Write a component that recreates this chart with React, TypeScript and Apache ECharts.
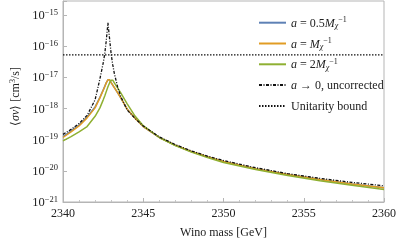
import React, { useEffect, useRef } from "react";
import * as echarts from "echarts";

// Wino mass grid [GeV]
const mass = [
  2340, 2340.5, 2341, 2341.5, 2342, 2342.3, 2342.5, 2342.6, 2342.7, 2342.8,
  2342.9, 2343.0, 2343.1, 2343.2, 2343.4, 2343.6, 2344, 2344.5, 2345, 2346,
  2347, 2348, 2349, 2350, 2352, 2354, 2356, 2358, 2360,
];

// log10 of <sigma v> [cm^3/s]
const logSvHalf = [
  -18.90, -18.72, -18.53, -18.27, -17.95, -17.64, -17.41, -17.29, -17.17, -17.08,
  -17.08, -17.17, -17.25, -17.33, -17.49, -17.66, -18.02, -18.32, -18.58, -18.93,
  -19.18, -19.38, -19.55, -19.70, -19.93, -20.12, -20.28, -20.42, -20.54,
];
const logSvOne = [
  -18.93, -18.75, -18.56, -18.30, -17.98, -17.66, -17.42, -17.30, -17.17, -17.08,
  -17.08, -17.17, -17.25, -17.33, -17.49, -17.66, -18.02, -18.32, -18.58, -18.93,
  -19.18, -19.38, -19.55, -19.70, -19.93, -20.12, -20.28, -20.42, -20.54,
];
const logSvTwo = [
  -19.04, -18.90, -18.75, -18.58, -18.25, -17.98, -17.73, -17.60, -17.45, -17.30,
  -17.18, -17.09, -17.09, -17.18, -17.34, -17.50, -17.85, -18.25, -18.55, -18.93,
  -19.19, -19.40, -19.57, -19.73, -19.96, -20.15, -20.32, -20.46, -20.60,
];
const logSvUncorrected = [
  -18.83, -18.67, -18.48, -18.22, -17.72, -17.05, -16.55, -16.25, -15.80, -15.25,
  -15.75, -16.25, -16.60, -16.88, -17.30, -17.62, -18.05, -18.32, -18.56, -18.91,
  -19.16, -19.36, -19.53, -19.67, -19.90, -20.09, -20.24, -20.37, -20.48,
];
const logUnitarityBound = -16.28;

const xTicks = [2340, 2345, 2350, 2355, 2360];
const yExponents = [-21, -20, -19, -18, -17, -16, -15];

const seriesNames = [
  "a = 0.5M",
  "a = M",
  "a = 2M",
  "a → 0, uncorrected",
  "Unitarity bound",
];

const FONT = "Liberation Serif";
const TXT = "#222";

export default function App() {
  const ref = useRef<HTMLDivElement>(null);
  useEffect(() => {
    if (!ref.current) return;
    const chart = echarts.init(ref.current, undefined, { renderer: "svg" });
    const pairs = (ys: number[]) => mass.map((m, i) => [m, ys[i]]);
    const lineBase = {
      type: "line" as const,
      symbol: "none",
      showSymbol: false,
      smooth: false,
    };
    const legendLabel = (name: string) => {
      switch (name) {
        case seriesNames[0]:
          return "{i|a}{n| = 0.5}{i|M}{sub|χ}{sup|−1}";
        case seriesNames[1]:
          return "{i|a}{n| = }{i|M}{sub|χ}{sup|−1}";
        case seriesNames[2]:
          return "{i|a}{n| = 2}{i|M}{sub|χ}{sup|−1}";
        case seriesNames[3]:
          return "{i|a}{n| → 0, uncorrected}";
        default:
          return `{n|${name}}`;
      }
    };
    chart.setOption({
      animation: false,
      textStyle: { fontFamily: FONT },
      grid: {
        left: 56,
        right: 11,
        top: 1,
        bottom: 40,
        show: true,
        borderColor: "#b5b5b5",
        borderWidth: 1,
      },
      legend: {
        orient: "vertical",
        left: 258,
        top: 15.7,
        padding: 0,
        itemWidth: 27,
        itemHeight: 12,
        itemGap: 6.8,
        data: seriesNames,
        formatter: legendLabel,
        itemStyle: { opacity: 0 },
        textStyle: {
          fontFamily: FONT,
          fontSize: 12,
          lineHeight: 14,
          color: TXT,
          rich: {
            n: { fontFamily: FONT, fontSize: 12, lineHeight: 14, color: TXT },
            i: { fontFamily: FONT, fontStyle: "italic", fontSize: 12, lineHeight: 14, color: TXT },
            sub: { fontFamily: FONT, fontStyle: "italic", fontSize: 8, lineHeight: 8, color: TXT, padding: [6, 0, 0, 0] },
            sup: { fontFamily: FONT, fontSize: 8, lineHeight: 8, color: TXT, padding: [0, 0, 6, 0] },
          },
        },
      },
      xAxis: {
        type: "value",
        min: 2340,
        max: 2360,
        interval: 5,
        name: "Wino mass [GeV]",
        nameLocation: "middle",
        nameGap: 24,
        nameTextStyle: { fontFamily: FONT, fontSize: 12, color: TXT },
        axisLine: { show: true, lineStyle: { color: "#b5b5b5" } },
        axisTick: { show: true, inside: true, length: 4, lineStyle: { color: "#b5b5b5" } },
        minorTick: { show: true, splitNumber: 5, length: 2, lineStyle: { color: "#c5c5c5" } },
        splitLine: { show: false },
        axisLabel: {
          fontFamily: FONT,
          fontSize: 12,
          color: TXT,
          margin: 5,
          formatter: (v: number) => (xTicks.includes(v) ? String(v) : ""),
        },
      },
      yAxis: {
        type: "value",
        min: -21,
        max: -14.55,
        interval: 1,
        name: "⟨{i|σv}⟩ [cm{s|3}/s]",
        nameLocation: "middle",
        nameGap: 41,
        nameRotate: 90,
        nameTextStyle: {
          fontFamily: FONT,
          fontSize: 12,
          color: TXT,
          padding: [0, 0, 0, 10],
          rich: {
            i: { fontFamily: FONT, fontStyle: "italic", fontSize: 12, color: TXT },
            s: { fontFamily: FONT, fontSize: 8, color: TXT, padding: [0, 0, 6, 0] },
          },
        },
        axisLine: { show: true, lineStyle: { color: "#b5b5b5" } },
        axisTick: { show: true, inside: true, length: 4, lineStyle: { color: "#b5b5b5" } },
        splitLine: { show: false },
        axisLabel: {
          fontFamily: FONT,
          fontSize: 12,
          color: TXT,
          margin: 5,
          formatter: (v: number) =>
            yExponents.includes(v) ? `{b|10}{e|${String(v).replace("-", "−")}}` : "",
          rich: {
            b: { fontFamily: FONT, fontSize: 12.5, color: TXT },
            e: { fontFamily: FONT, fontSize: 8.5, color: TXT, padding: [0, 0, 7, 0] },
          },
        },
      },
      series: [
        {
          ...lineBase,
          name: seriesNames[0],
          data: pairs(logSvHalf),
          lineStyle: { color: "#5E81B5", width: 1.5 },
          itemStyle: { color: "#5E81B5" },
        },
        {
          ...lineBase,
          name: seriesNames[1],
          data: pairs(logSvOne),
          lineStyle: { color: "#E19C24", width: 1.5 },
          itemStyle: { color: "#E19C24" },
        },
        {
          ...lineBase,
          name: seriesNames[2],
          data: pairs(logSvTwo),
          lineStyle: { color: "#8FB032", width: 1.5 },
          itemStyle: { color: "#8FB032" },
        },
        {
          ...lineBase,
          name: seriesNames[3],
          data: pairs(logSvUncorrected),
          lineStyle: { color: "#111", width: 1.3, type: [3, 1.5, 1, 1.5] },
          itemStyle: { color: "#111" },
        },
        {
          ...lineBase,
          name: seriesNames[4],
          data: [
            [mass[0], logUnitarityBound],
            [mass[mass.length - 1], logUnitarityBound],
          ],
          lineStyle: { color: "#111", width: 1.3, type: [1.5, 1.5] },
          itemStyle: { color: "#111" },
        },
      ],
    });
    return () => chart.dispose();
  }, []);
  return (
    <div
      ref={ref}
      style={{ position: "fixed", left: 0, top: 0, width: 399, height: 243 }}
    />
  );
}
